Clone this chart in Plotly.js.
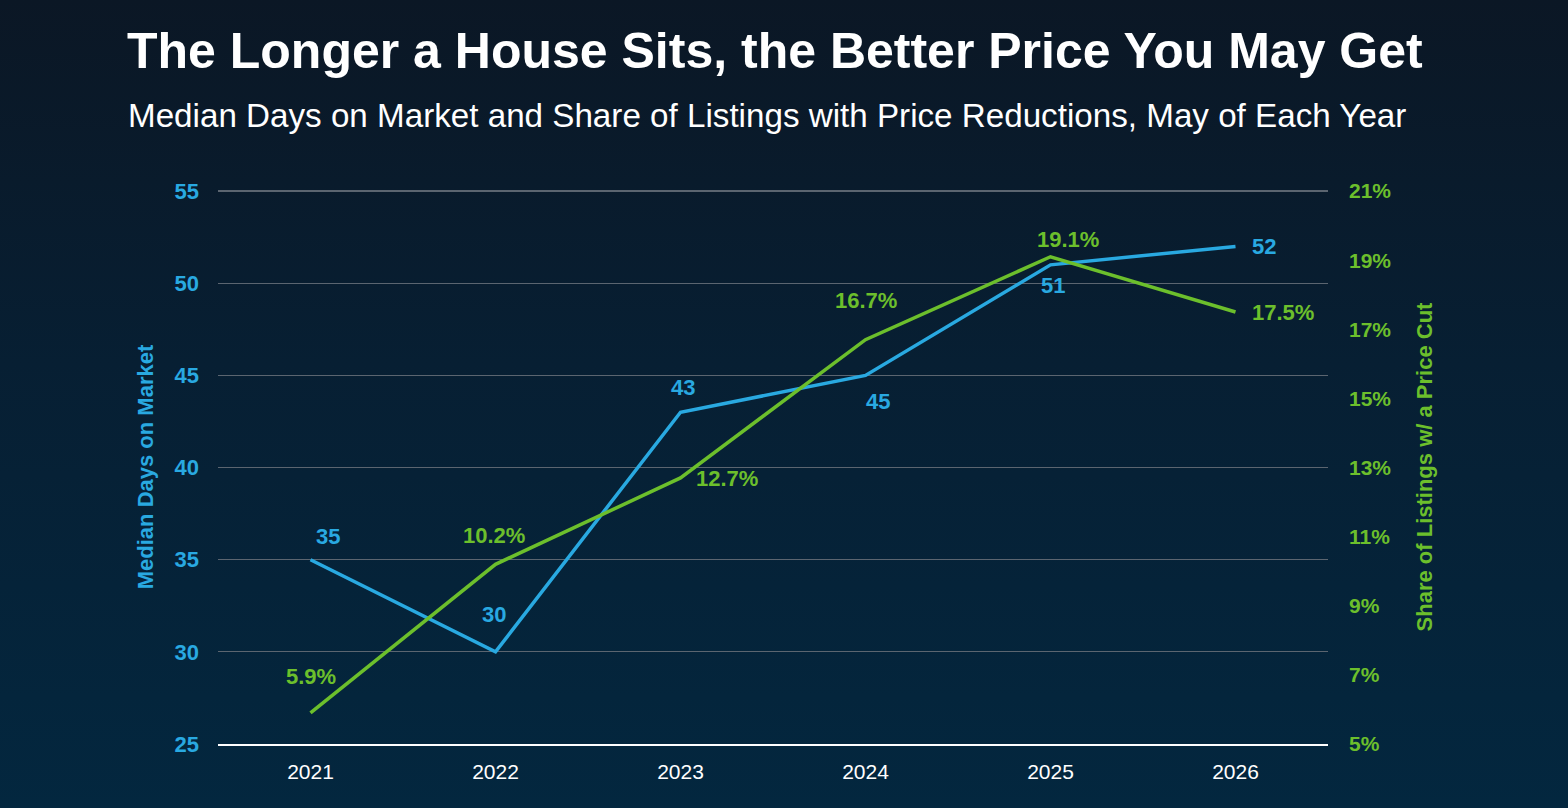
<!DOCTYPE html>
<html>
<head>
<meta charset="utf-8">
<script src="https://cdn.plot.ly/plotly-3.0.1.min.js"></script>
<style>
html,body{margin:0;padding:0;width:1568px;height:808px;overflow:hidden;
background:linear-gradient(180deg,#0b1725 0%,#071f33 45%,#03273f 100%);}
#chart{width:1568px;height:808px;}
</style>
</head>
<body>
<div id="chart"></div>
<script>
const years = ['2021','2022','2023','2024','2025','2026'];
const daysOnMarket = [35, 30, 43, 45, 51, 52];
const priceCutShare = [0.059, 0.102, 0.127, 0.167, 0.191, 0.175];
const daysLabels = ['35','30','43','45','51','52'];
const shareLabels = ['5.9%','10.2%','12.7%','16.7%','19.1%','17.5%'];

const BLUE = '#29a9e1';
const GREEN = '#6cbf2c';
const FONT = 'Liberation Sans, Arial, Helvetica, sans-serif';

// label placement (pixel shifts from each point)
const daysShift = [[17,23,'center'],[-2,37,'center'],[2,25,'center'],[12,-26,'center'],[2,-21,'center'],[14,0,'left']];
const shareShift = [[0,36,'center'],[-2,29,'center'],[13,-1,'left'],[0,39,'center'],[17,17,'center'],[14,0,'left']];

const annotations = [];
years.forEach((yr,i)=>{
  annotations.push({x:i, y:daysOnMarket[i], xref:'x', yref:'y', text:'<b>'+daysLabels[i]+'</b>', showarrow:false,
    xshift:daysShift[i][0], yshift:daysShift[i][1], xanchor:daysShift[i][2], yanchor:'middle',
    font:{family:FONT, size:22, color:BLUE}});
  annotations.push({x:i, y:priceCutShare[i], xref:'x', yref:'y2', text:'<b>'+shareLabels[i]+'</b>', showarrow:false,
    xshift:shareShift[i][0], yshift:shareShift[i][1], xanchor:shareShift[i][2], yanchor:'middle',
    font:{family:FONT, size:22, color:GREEN}});
});
annotations.push({xref:'paper', yref:'paper', x:(126-218)/1110, y:1+(191-117)/553, xanchor:'left', yanchor:'middle',
  text:'Median Days on Market and Share of Listings with Price Reductions, May of Each Year', showarrow:false,
  font:{family:FONT, size:33.2, color:'#ffffff'}});

const traces = [
  {x:years, y:daysOnMarket, type:'scatter', mode:'lines', name:'Median Days on Market',
   line:{color:BLUE, width:3.5}, yaxis:'y'},
  {x:years, y:priceCutShare, type:'scatter', mode:'lines', name:'Share of Listings w/ a Price Cut',
   line:{color:GREEN, width:3.5}, yaxis:'y2'}
];

const layout = {
  width:1568, height:808,
  paper_bgcolor:'rgba(0,0,0,0)', plot_bgcolor:'rgba(0,0,0,0)',
  margin:{l:218, r:240, t:190, b:64},
  showlegend:false,
  title:{text:'<b>The Longer a House Sits, the Better Price You May Get</b>', xref:'container', yref:'container',
    x:127/1568, xanchor:'left', y:1-50/808, yanchor:'middle',
    font:{family:FONT, size:50, color:'#ffffff'}},
  xaxis:{type:'category', range:[-0.5,5.5], showgrid:false, zeroline:false,
    showline:true, linecolor:'#ffffff', linewidth:1.5, ticks:'',
    tickfont:{family:FONT, size:21, color:'#ffffff'}, ticklabelstandoff:8},
  yaxis:{range:[25,55.06], tickvals:[25,30,35,40,45,50,55], showgrid:true, gridcolor:'#5b6570', gridwidth:1.3,
    zeroline:false, showline:false, ticks:'', ticklabelstandoff:18,
    tickfont:{family:FONT, size:22, color:BLUE, weight:'bold'},
    title:{text:'<b>Median Days on Market</b>', standoff:14, font:{family:FONT, size:22, color:BLUE}}},
  yaxis2:{range:[0.05,0.21032], dtick:0.02, tick0:0.05, overlaying:'y', side:'right', showgrid:false,
    zeroline:false, showline:false, ticks:'', tickformat:'.0%', ticklabelstandoff:20,
    tickfont:{family:FONT, size:21, color:GREEN, weight:'bold'},
    title:{text:'<b>Share of Listings w/ a Price Cut</b>', standoff:26, font:{family:FONT, size:22, color:GREEN}}},
  annotations:annotations
};

Plotly.newPlot('chart', traces, layout, {displayModeBar:false, staticPlot:true});
</script>
</body>
</html>
